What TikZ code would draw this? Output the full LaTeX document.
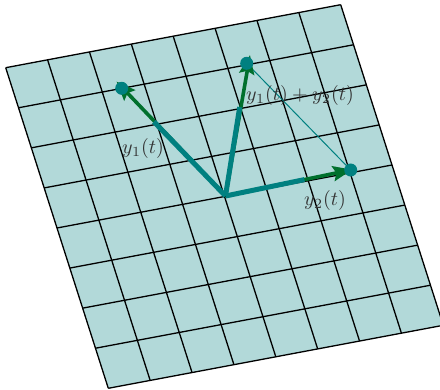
\documentclass[tikz,border=0pt]{standalone}
\usetikzlibrary{calc,arrows.meta}
\definecolor{vgreen}{RGB}{0,112,45}
\begin{document}
\begin{tikzpicture}[x=0.5pt,y=-0.5pt,
  gridline/.style={black,line width=0.65pt},
  greenarrow/.style={vgreen,line width=1.8pt,-{Stealth[length=9.5pt,width=7.5pt,inset=1.5pt]}},
  tealbar/.style={teal,line width=2.5pt},
  tipdot/.style={circle,fill=teal,inner sep=0pt,minimum size=6.5pt},
  lbl/.style={text=black!80,inner sep=0pt}]
\clip (0,0) rectangle (440,390);
\useasboundingbox (0,0) rectangle (440,390);
% grid corners
\coordinate (TL) at (5.7,67.7);
\coordinate (TR) at (340.7,4.7);
\coordinate (BL) at (108.3,388.3);
\coordinate (BR) at (443.3,325.3);
\fill[teal!30] (TL) -- (TR) -- (BR) -- (BL) -- cycle;
\foreach \i in {0,...,8}{
  \draw[gridline] ($(TL)!\i/8!(TR)$) -- ($(BL)!\i/8!(BR)$);
  \draw[gridline] ($(TL)!\i/8!(BL)$) -- ($(TR)!\i/8!(BR)$);
}
% vectors
\coordinate (O) at (225.5,196);
\coordinate (E1) at (116.5,81.5);
\coordinate (ES) at (250,55);
\coordinate (E2) at (352,169.7);
\node[tipdot,opacity=0] (D1) at (121.7,88.3) {};
\node[tipdot,opacity=0] (DS) at (246.7,63.3) {};
\node[tipdot,opacity=0] (D2) at (350.7,170) {};
\draw[teal,line width=0.5pt] (DS.center) -- (D2.center);
\draw[greenarrow] (O) -- (E1);
\draw[greenarrow] (O) -- (ES);
\draw[greenarrow] (O) -- (E2);
\draw[tealbar] (O) -- ($(O)!0.69!(D1.center)$);
\draw[tealbar] (O) -- ($(O)!0.67!(DS.center)$);
\draw[tealbar] (O) -- ($(O)!0.63!(D2.center)$);
\node[tipdot] at (D1) {};
\node[tipdot] at (DS) {};
\node[tipdot] at (D2) {};
% labels
\node[lbl] (L1) at (143,149) {$y_1(t)$};
\node[lbl] (LS) at (300,96) {$y_1(t)+y_2(t)$};
\node[lbl] (L2) at (325,201) {$y_2(t)$};
\end{tikzpicture}
\end{document}
